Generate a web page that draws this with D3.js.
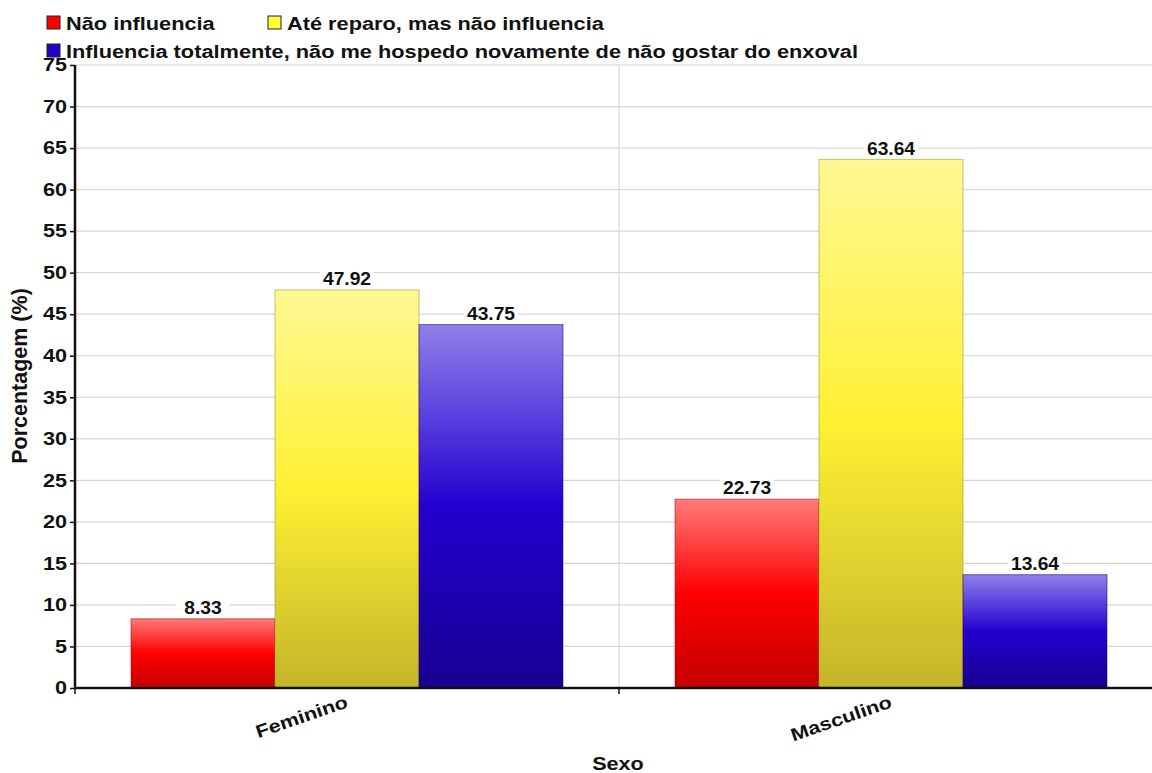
<!DOCTYPE html>
<html>
<head>
<meta charset="utf-8">
<script src="https://cdn.jsdelivr.net/npm/d3@7"></script>
<style>
  html, body { margin: 0; padding: 0; background: #fff; }
  svg { display: block; font-family: "Liberation Sans", Arial, sans-serif; }
</style>
</head>
<body>
<svg id="chart" width="1152" height="773"></svg>
<script>
// Survey answers by sex (percentages)
const categories = ["Feminino", "Masculino"];
const seriesNames = [
  "Não influencia",
  "Até reparo, mas não influencia",
  "Influencia totalmente, não me hospedo novamente de não gostar do enxoval"
];
const naoInfluencia = [8.33, 22.73];
const ateReparo = [47.92, 63.64];
const influenciaTotal = [43.75, 13.64];
const yTicks = [0, 5, 10, 15, 20, 25, 30, 35, 40, 45, 50, 55, 60, 65, 70, 75];

const seriesValues = [naoInfluencia, ateReparo, influenciaTotal];
const palette = [
  { swatch: "#ff0000", top: "#ff7a7a", mid: "#ff0000", bottom: "#c40000", edge: "#a00000" },
  { swatch: "#ffff33", top: "#fff894", mid: "#fff033", bottom: "#c4b52a", edge: "#9c9020" },
  { swatch: "#2200cc", top: "#8f80ea", mid: "#2400d0", bottom: "#180090", edge: "#120070" }
];

// the chart's lettering is set slightly wide
const WIDE = 1.2;

const svg = d3.select("#chart");
const margin = { left: 75, top: 65, bottom: 688 };
const bandStep = 544;

const x = d3.scaleBand()
  .domain(categories)
  .range([margin.left, margin.left + bandStep * categories.length])
  .paddingInner(0).paddingOuter(0);
const xInner = d3.scaleBand()
  .domain(d3.range(seriesNames.length))
  .range([0, x.bandwidth()])
  .paddingInner(0)
  .paddingOuter(0.389);
const y = d3.scaleLinear().domain([0, 75]).range([margin.bottom, margin.top]);

// gradients
const defs = svg.append("defs");
palette.forEach((p, i) => {
  const g = defs.append("linearGradient")
    .attr("id", "grad" + i).attr("x1", 0).attr("y1", 0).attr("x2", 0).attr("y2", 1);
  g.append("stop").attr("offset", "0%").attr("stop-color", p.top);
  g.append("stop").attr("offset", "50%").attr("stop-color", p.mid);
  g.append("stop").attr("offset", "100%").attr("stop-color", p.bottom);
});

// horizontal grid
svg.append("g")
  .selectAll("line")
  .data(yTicks.filter(d => d > 0))
  .join("line")
  .attr("x1", margin.left).attr("x2", 1152)
  .attr("y1", d => y(d)).attr("y2", d => y(d))
  .attr("stroke", "#d6d6d6").attr("stroke-width", 1.2);

// vertical grid between categories
svg.append("line")
  .attr("x1", x("Masculino")).attr("x2", x("Masculino"))
  .attr("y1", margin.top).attr("y2", margin.bottom)
  .attr("stroke", "#d6d6d6").attr("stroke-width", 1.2);

// bars
const groups = svg.append("g").selectAll("g")
  .data(categories)
  .join("g")
  .attr("transform", d => `translate(${x(d)},0)`);

groups.selectAll("rect")
  .data((c, ci) => seriesValues.map((vals, si) => ({ si, v: vals[ci] })))
  .join("rect")
  .attr("x", d => xInner(d.si))
  .attr("width", xInner.bandwidth())
  .attr("y", d => y(d.v))
  .attr("height", d => y(0) - y(d.v))
  .attr("fill", d => `url(#grad${d.si})`)
  .attr("stroke", d => palette[d.si].edge)
  .attr("stroke-opacity", 0.55)
  .attr("stroke-width", 1);

// value labels with white backing
const labels = groups.selectAll("g.lbl")
  .data((c, ci) => seriesValues.map((vals, si) => ({ si, v: vals[ci] })))
  .join("g")
  .attr("class", "lbl")
  .attr("transform", d => `translate(${xInner(d.si) + xInner.bandwidth() / 2},${y(d.v) - 11})`);
labels.append("rect")
  .attr("x", -27).attr("y", -10).attr("width", 54).attr("height", 19)
  .attr("fill", "#fff");
labels.append("text")
  .attr("text-anchor", "middle")
  .attr("dy", "0.36em")
  .attr("transform", "scale(1.1,1)")
  .attr("font-size", 17.5).attr("font-weight", "bold")
  .attr("fill", "#111")
  .text(d => d.v.toFixed(2));

// y axis
const yAxis = svg.append("g")
  .attr("transform", `translate(${margin.left},0)`)
  .call(d3.axisLeft(y).tickValues(yTicks).tickSize(5).tickPadding(4).tickFormat(d3.format("d")));
yAxis.select(".domain").attr("stroke", "#111").attr("stroke-width", 2.5)
  .attr("d", `M0,${margin.top}V${margin.bottom}`);
yAxis.selectAll(".tick line").attr("stroke", "#111").attr("stroke-width", 1.5);
yAxis.selectAll("text")
  .attr("x", -8 / WIDE)
  .attr("transform", `scale(${WIDE},1)`)
  .attr("font-size", 18).attr("font-weight", "bold").attr("fill", "#111")
  .attr("font-family", "'Liberation Sans', Arial, sans-serif");

// x axis
const xAxis = svg.append("g")
  .attr("transform", `translate(0,${margin.bottom})`)
  .call(d3.axisBottom(x).tickSize(0).tickFormat(""));
xAxis.select(".domain").attr("stroke", "#111").attr("stroke-width", 2.5)
  .attr("d", `M${margin.left},0H1152`);
svg.append("g").selectAll("line")
  .data(categories)
  .join("line")
  .attr("x1", d => x(d)).attr("x2", d => x(d))
  .attr("y1", margin.bottom).attr("y2", margin.bottom + 6)
  .attr("stroke", "#111").attr("stroke-width", 1.5);

svg.append("g").selectAll("text")
  .data(categories)
  .join("text")
  .attr("transform", d => `translate(${x(d) + x.bandwidth() / 2 + 2},${margin.bottom + 19}) rotate(-19) scale(${WIDE},1)`)
  .attr("text-anchor", "end")
  .attr("font-size", 18).attr("font-weight", "bold").attr("fill", "#111")
  .text(d => d);

// axis titles
svg.append("text")
  .attr("transform", `translate(618,770) scale(${WIDE},1)`)
  .attr("text-anchor", "middle")
  .attr("font-size", 18).attr("font-weight", "bold").attr("fill", "#111")
  .text("Sexo");
svg.append("text")
  .attr("transform", "translate(27,376) rotate(-90)")
  .attr("text-anchor", "middle")
  .attr("font-size", 21.5).attr("font-weight", "bold").attr("fill", "#111")
  .text("Porcentagem (%)");

// legend
const legendPos = [
  { x: 47, y: 16 },
  { x: 268, y: 16 },
  { x: 47, y: 44 }
];
const legend = svg.append("g").selectAll("g")
  .data(seriesNames)
  .join("g")
  .attr("transform", (d, i) => `translate(${legendPos[i].x},${legendPos[i].y})`);
legend.append("rect")
  .attr("width", 13).attr("height", 13)
  .attr("fill", (d, i) => palette[i].swatch)
  .attr("stroke", "#222").attr("stroke-width", 1);
legend.append("text")
  .attr("transform", "translate(19,7) scale(1.146,1)")
  .attr("dy", "0.36em")
  .attr("font-size", 19).attr("font-weight", "bold").attr("fill", "#111")
  .text(d => d);
</script>
</body>
</html>
